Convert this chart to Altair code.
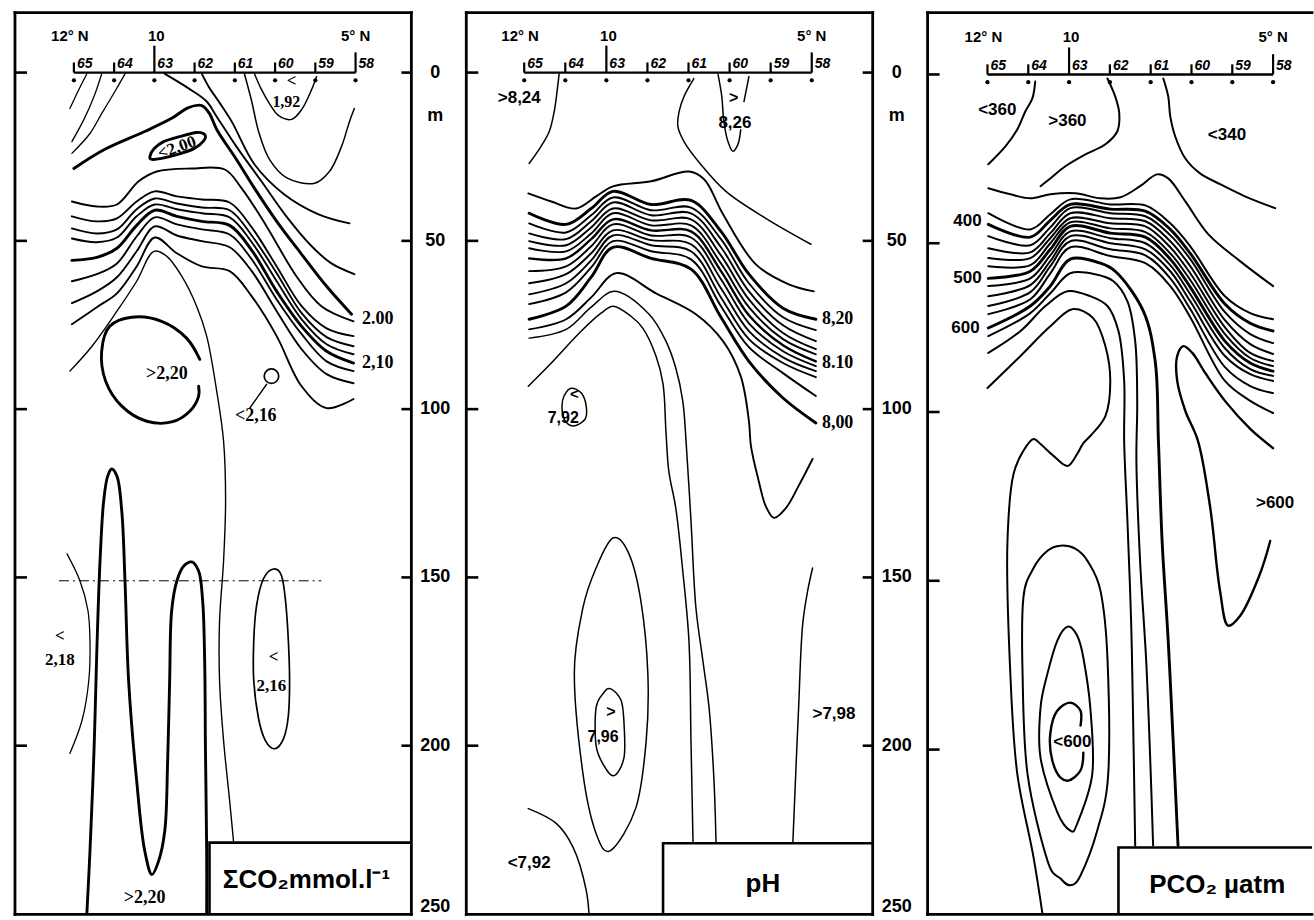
import altair as alt
import pandas as pd

# ===================== shared section furniture =====================
station_lat = [12, 11, 10, 9, 8, 7, 6, 5]
station_num = ["65", "64", "63", "62", "61", "60", "59", "58"]
station_tick_top = [-3, -3, -8, -3, -3, -3, -3, -6]
station_dot_dep = 2.3
station_num_dep = -1.4
lat_text = ["12° N", "10", "5° N"]
lat_text_lat = [12.1, 9.95, 5.0]
lat_text_dep = -11.0
depth_text = ["0", "m", "50", "100", "150", "200", "250"]
depth_text_dep = [0, 13.0, 50, 100, 150, 200, 248.0]
frame_tick_dep = [0, 50, 100, 150, 200]

# panel extents: lat left, lat right, depth top, depth bottom
co2_extent = [13.464, 3.613, -17.8, 250.1]
ph_extent = [13.41, 3.517, -17.8, 250.1]
pco2_extent = [13.468, 4.046, -18.3, 248.8]
# legend boxes: lat of left edge, depth of top edge
co2_box = [8.63, 228.8]
ph_box = [8.62, 229.0]
pco2_box = [8.79, 229.0]

# ===================== panel 1 : Sigma CO2 =====================
co2_l1_lat = [11.68, 11.90, 12.10]
co2_l1_dep = [0.4, 5.6, 10.7]
co2_l2_lat = [11.31, 11.50, 11.75, 12.05]
co2_l2_dep = [0.4, 7.1, 13.9, 20.5]
co2_l3_lat = [10.73, 11.01, 11.31, 11.60, 12.05]
co2_l3_dep = [0.4, 6.2, 12.2, 18.1, 24.0]
co2_200_lat = [12.00, 11.23, 10.24, 9.57, 9.15, 8.82, 8.63, 8.45, 7.96, 7.51, 6.96, 6.34, 5.72, 5.10]
co2_200_dep = [28.5, 22.8, 17.5, 13.6, 10.4, 9.8, 12.2, 16.9, 25.8, 34.4, 44.2, 54.0, 63.5, 71.8]
co2_ua_lat = [8.82, 8.65, 8.40, 8.08, 7.51, 6.77, 5.92, 5.15]
co2_ua_dep = [0.4, 4.2, 8.6, 14.5, 27.3, 36.2, 42.1, 44.8]
co2_ub_lat = [9.74, 9.15, 8.70, 8.45, 7.96, 7.34, 6.72, 6.09, 5.60, 5.03]
co2_ub_dep = [0.4, 4.7, 8.6, 13.1, 22.0, 32.3, 42.7, 51.6, 56.7, 59.9]
co2_u_lat = [7.76, 7.58, 7.41, 7.14, 6.72, 6.02, 5.65, 5.35, 5.15, 5.03]
co2_u_dep = [0.4, 8.6, 17.5, 25.8, 31.2, 32.9, 29.4, 22.0, 14.5, 10.7]
co2_v_lat = [7.51, 7.34, 7.14, 6.91, 6.59, 6.34, 6.09, 5.97]
co2_v_dep = [0.4, 5.0, 9.2, 12.8, 13.9, 11.0, 5.0, 1.2]
co2_ell_lat = [10.11, 10.01, 9.77, 9.37, 8.95, 8.75, 8.77, 9.02, 9.42, 9.82, 10.06]
co2_ell_dep = [24.9, 22.6, 20.5, 19.0, 17.8, 18.4, 20.2, 22.6, 24.3, 25.5, 25.8]
co2_b1_lat = [12.05, 11.43, 10.93, 10.39, 9.94, 9.07, 8.25, 7.83, 7.21, 6.47, 5.85, 5.05]
co2_b1_dep = [38.3, 39.8, 39.2, 32.3, 29.4, 28.5, 28.8, 34.4, 45.7, 60.5, 69.4, 73.9]
co2_band_lat = [12.05, 11.43, 10.93, 10.44, 9.99, 9.44, 8.82, 8.13, 7.58, 6.96, 6.34, 5.72, 5.05]
co2_b215 = [42.7, 44.2, 43.3, 38.3, 35.3, 36.8, 37.7, 38.6, 46.0, 57.6, 69.4, 76.0, 78.3]
co2_b227 = [46.3, 47.8, 46.6, 40.6, 37.4, 38.9, 40.1, 40.9, 48.4, 59.6, 71.5, 78.6, 81.3]
co2_b237 = [49.3, 50.4, 49.0, 42.7, 39.2, 40.6, 41.8, 43.0, 50.4, 62.0, 73.3, 80.7, 83.7]
co2_b259 = [55.8, 54.9, 52.2, 45.4, 40.9, 42.7, 44.2, 45.4, 52.8, 65.0, 75.4, 82.8, 86.3]
co2_b280 = [62.0, 59.9, 56.7, 48.7, 43.0, 45.1, 46.6, 48.1, 55.5, 67.4, 77.7, 85.8, 88.7]
co2_b302 = [68.5, 65.0, 60.8, 53.1, 45.7, 48.4, 50.1, 51.9, 59.0, 70.9, 82.2, 89.6, 92.3]
co2_b323 = [74.8, 69.7, 65.6, 57.6, 49.0, 53.7, 57.6, 59.0, 66.5, 78.3, 93.2, 99.7, 97.0]
co2_deep_lat = [12.10, 11.55, 10.93, 10.44, 10.01, 9.69, 9.32, 8.95, 8.70, 8.45, 8.28, 8.23, 8.28, 8.38, 8.38, 8.28, 8.13, 8.03]
co2_deep_dep = [88.7, 81.3, 70.9, 62.0, 53.1, 54.6, 60.5, 69.4, 78.3, 94.7, 109.5, 127.3, 145.1, 162.9, 180.7, 198.5, 216.3, 228.8]
co2_c220_lat = [8.87, 9.20, 9.82, 10.56, 11.11, 11.31, 11.21, 10.81, 10.19, 9.57, 9.12, 8.90, 8.90]
co2_c220_dep = [85.2, 78.9, 73.9, 72.7, 75.4, 82.8, 91.7, 99.1, 103.6, 103.8, 100.6, 96.1, 93.2]
co2_ptr_lat = [7.21, 7.63]
co2_ptr_dep = [92.6, 99.7]
co2_circle_lat = [7.09]
co2_circle_dep = [90.2]
co2_arc_lat = [12.17, 11.85, 11.65, 11.60, 11.63, 11.80, 12.10]
co2_arc_dep = [143.0, 151.0, 159.9, 168.8, 180.7, 192.6, 202.3]
co2_w_lat = [11.68, 11.60, 11.50, 11.43, 11.35, 11.26, 11.16, 11.06, 10.93, 10.81, 10.73, 10.64, 10.44, 10.24,
             10.06, 9.89, 9.74, 9.67, 9.62, 9.57, 9.44, 9.27, 9.07, 8.90, 8.80, 8.75, 8.73, 8.70, 8.70]
co2_w_dep = [250.5, 231.2, 201.5, 171.8, 145.1, 127.3, 119.9, 117.8, 119.9, 130.3, 151.0, 180.7, 210.4, 231.2,
             238.3, 234.1, 225.2, 204.4, 180.7, 159.9, 151.0, 146.6, 145.4, 148.1, 157.0, 174.8, 201.5, 231.2, 250.5]
co2_o216_lat = [7.04, 6.84, 6.74, 6.67, 6.64, 6.67, 6.79, 7.01, 7.24, 7.41, 7.53, 7.53, 7.46, 7.29]
co2_o216_dep = [147.5, 149.5, 157.0, 168.8, 180.7, 191.1, 197.9, 200.9, 198.5, 192.0, 180.7, 168.8, 158.4, 150.4]
co2_dash_lat = [12.37, 5.85]
co2_dash_dep = [151.0, 151.0]
co2_lab_text = ["<", "1,92", "<2,00", "2.00", "2,10", ">2,20", "<2,16", "<", "2,18", "<", "2,16", ">2,20"]
co2_lab_lat = [6.59, 6.72, 9.44, 4.45, 4.45, 9.69, 7.48, 12.35, 12.35, 7.04, 7.09, 10.24]
co2_lab_dep = [2.4, 8.6, 22.3, 73.3, 86.3, 89.6, 102.1, 167.3, 174.6, 173.6, 182.4, 245.4]
co2_title = "ΣCO₂mmol.l⁻¹"
co2_title_pos = [6.22, 240.0]

# ===================== panel 2 : pH =====================
ph_824_lat = [11.15, 11.20, 11.27, 11.39, 11.59, 11.88]
ph_824_dep = [0.4, 5.6, 11.6, 17.5, 21.9, 27.0]
ph_61_lat = [7.87, 8.11, 8.23, 8.26, 8.11, 7.70, 7.09, 6.12, 5.02]
ph_61_dep = [1.8, 7.1, 11.6, 16.0, 20.5, 27.3, 35.3, 43.3, 51.0]
ph_826a_lat = [7.28, 7.19, 7.14, 7.04, 6.92, 6.80, 6.73]
ph_826a_dep = [0.6, 7.1, 14.5, 20.5, 23.4, 21.4, 17.0]
ph_826b_lat = [6.65, 6.53]
ph_826b_dep = [8.6, 1.2]
ph_822_lat = [11.90, 11.34, 10.74, 10.25, 9.84, 8.91, 7.99, 7.62, 7.16, 6.36, 5.56, 4.95]
ph_822_dep = [35.9, 38.3, 40.4, 36.8, 33.8, 32.3, 29.4, 31.7, 42.1, 57.0, 62.9, 65.0]
ph_band_lat = [11.88, 10.98, 10.37, 9.84, 8.91, 7.94, 7.21, 6.53, 5.70, 4.90]
ph_b820 = [41.8, 45.1, 40.4, 35.3, 39.2, 38.0, 47.2, 59.9, 70.0, 73.3]
ph_b818 = [44.8, 47.5, 42.4, 37.1, 40.9, 40.1, 49.5, 62.6, 72.7, 76.5]
ph_b816 = [47.8, 49.5, 44.2, 38.6, 42.4, 41.8, 51.9, 65.0, 75.1, 79.8]
ph_b814 = [50.1, 51.3, 46.0, 40.4, 43.9, 43.6, 54.3, 67.4, 77.4, 82.2]
ph_b812 = [52.2, 53.1, 47.8, 41.8, 45.4, 45.4, 56.7, 69.7, 79.2, 83.7]
ph_b810 = [55.2, 55.2, 49.5, 43.6, 46.9, 47.2, 59.0, 72.1, 81.0, 85.8]
ph_b808 = [59.0, 57.6, 51.6, 45.1, 48.4, 49.0, 61.4, 74.5, 82.8, 87.2]
ph_b806 = [62.6, 59.9, 53.7, 46.9, 49.8, 51.0, 64.1, 76.8, 84.6, 88.7]
ph_b804 = [65.9, 62.6, 55.8, 48.4, 51.3, 53.1, 66.8, 79.2, 86.3, 90.5]
ph_b802 = [68.8, 65.3, 57.9, 50.1, 53.1, 55.5, 69.4, 81.6, 89.3, 96.1]
ph_b800 = [73.3, 69.4, 60.8, 51.9, 55.2, 58.4, 72.7, 85.8, 96.7, 104.1]
ph_798_lat = [11.88, 10.98, 10.37, 9.76, 8.79, 7.82, 7.16, 6.73, 6.53, 6.48, 6.29, 6.12, 5.92, 5.63, 5.32, 4.98]
ph_798_dep = [76.3, 73.3, 66.8, 59.6, 65.6, 71.8, 79.8, 90.2, 103.5, 111.0, 121.4, 128.8, 132.3, 129.4, 122.8, 114.8]
ph_796_lat = [11.88, 10.98, 10.37, 9.81, 8.96, 8.55, 8.31, 8.14, 8.06, 7.94, 7.82, 7.65, 7.50, 7.38, 7.33]
ph_796_dep = [78.9, 76.3, 69.7, 65.0, 71.8, 79.8, 87.8, 97.6, 109.5, 133.2, 159.0, 174.8, 188.7, 210.4, 229.0]
ph_794_lat = [11.90, 11.34, 10.61, 10.13, 9.84, 9.40, 9.11, 8.79, 8.62, 8.55, 8.48, 8.31, 8.14, 7.99, 7.94, 7.89]
ph_794_dep = [93.2, 86.3, 76.8, 71.5, 69.4, 72.4, 76.0, 84.3, 92.6, 106.5, 118.4, 129.4, 148.1, 168.8, 198.5, 229.0]
ph_right_lat = [4.98, 5.10, 5.22, 5.32, 5.39, 5.46]
ph_right_dep = [147.2, 154.0, 163.8, 188.7, 208.3, 228.8]
ph_outer_lat = [9.84, 9.45, 9.16, 8.99, 9.03, 9.28, 9.89, 10.25, 10.57, 10.78, 10.57, 10.25]
ph_outer_dep = [138.3, 143.0, 157.0, 178.6, 198.5, 218.4, 231.1, 226.1, 208.3, 178.6, 159.0, 147.2]
ph_inner_lat = [9.89, 9.64, 9.57, 9.57, 9.81, 10.06, 10.25, 10.25, 10.06]
ph_inner_dep = [183.1, 186.6, 193.5, 203.5, 208.9, 205.9, 200.0, 188.7, 184.2]
ph_792_lat = [11.90, 11.22, 10.81, 10.49, 10.42]
ph_792_dep = [218.7, 223.1, 230.2, 243.0, 250.5]
ph_blob_lat = [10.86, 10.61, 10.49, 10.52, 10.81, 11.03, 11.08, 11.03]
ph_blob_dep = [93.8, 95.2, 99.1, 103.0, 105.0, 103.0, 99.1, 96.1]
ph_lab_text = [">8,24", ">", "8,26", "8,20", "8.10", "8,00", "<", "7,92", ">", "7,96", ">7,98", "<7,92"]
ph_lab_lat = [12.12, 6.90, 6.87, 4.37, 4.37, 4.37, 10.78, 11.05, 9.89, 10.08, 4.46, 11.88]
ph_lab_dep = [7.7, 7.6, 15.0, 73.3, 86.3, 104.1, 95.4, 102.6, 190.0, 197.4, 190.5, 235.0]
ph_title = "pH"
ph_title_pos = [6.19, 241.0]

# ===================== panel 3 : PCO2 =====================
pco2_360a_lat = [10.83, 10.90, 11.07, 11.27, 11.56, 11.98]
pco2_360a_dep = [2.1, 7.1, 10.9, 16.3, 21.3, 26.6]
pco2_360b_lat = [9.06, 8.87, 8.77, 8.82, 9.11, 9.60, 10.09, 10.46, 10.70]
pco2_360b_dep = [1.2, 6.5, 11.5, 16.9, 20.7, 23.7, 27.2, 30.8, 33.1]
pco2_340_lat = [7.69, 7.57, 7.52, 7.40, 7.15, 6.79, 6.30, 5.69, 4.95]
pco2_340_dep = [1.2, 6.5, 12.4, 18.3, 24.9, 29.3, 32.5, 36.1, 39.6]
pco2_top_lat = [11.98, 11.44, 10.95, 10.46, 9.85, 9.23, 8.74, 8.26, 7.84, 7.57, 7.15, 6.59, 5.81, 5.00]
pco2_top_dep = [33.7, 35.5, 36.7, 35.5, 35.2, 36.7, 36.4, 33.1, 29.6, 30.8, 37.6, 47.3, 55.3, 62.7]
pco2_band_lat = [11.98, 10.95, 10.46, 9.97, 8.99, 8.13, 7.52, 7.03, 6.18, 5.56, 5.00]
pco2_b380 = [41.1, 45.9, 41.4, 37.0, 38.5, 38.8, 44.1, 50.9, 65.7, 70.7, 72.5]
pco2_b400 = [44.4, 48.2, 43.2, 38.5, 39.9, 40.5, 45.9, 53.0, 68.0, 73.7, 76.0]
pco2_b420 = [47.9, 50.6, 45.3, 39.6, 41.1, 42.0, 47.6, 54.7, 70.4, 76.9, 79.6]
pco2_b440 = [51.5, 52.7, 47.0, 41.1, 42.6, 43.5, 49.4, 56.8, 72.8, 79.9, 82.8]
pco2_b460 = [54.4, 54.4, 48.5, 42.6, 44.1, 45.0, 51.2, 58.9, 74.9, 82.5, 84.9]
pco2_b480 = [56.8, 56.5, 50.0, 43.8, 45.6, 46.7, 53.0, 60.9, 76.9, 84.0, 86.4]
pco2_b500 = [60.4, 58.3, 51.8, 45.0, 47.0, 48.2, 54.7, 63.0, 79.0, 85.5, 87.9]
pco2_b520 = [62.7, 60.4, 53.6, 46.5, 48.5, 50.0, 56.5, 65.1, 81.1, 87.3, 89.3]
pco2_b540 = [65.7, 62.4, 55.3, 47.9, 50.0, 51.8, 58.3, 67.2, 83.4, 88.8, 90.8]
pco2_b560 = [68.6, 64.5, 56.8, 49.4, 51.8, 53.6, 60.4, 69.5, 86.7, 92.3, 94.4]
pco2_b580 = [71.0, 66.6, 58.9, 51.2, 53.8, 55.9, 62.7, 71.9, 90.8, 96.7, 100.3]
pco2_600_lat = [11.98, 10.95, 10.46, 9.97, 9.23, 8.87, 8.18, 7.89, 7.81, 7.72, 7.57, 7.45, 7.33]
pco2_600_dep = [75.1, 68.6, 62.7, 54.7, 55.9, 58.3, 70.1, 84.9, 108.6, 138.2, 167.8, 197.3, 228.4]
pco2_620_lat = [11.98, 10.95, 10.46, 9.97, 9.36, 8.92, 8.57, 8.38, 8.33, 8.35, 8.26, 8.11, 8.01, 7.94]
pco2_620_dep = [77.5, 70.7, 64.8, 58.9, 59.2, 61.2, 67.2, 79.0, 96.7, 114.5, 144.1, 173.7, 203.3, 228.4]
pco2_640_lat = [11.98, 11.19, 10.58, 10.04, 9.48, 9.06, 8.79, 8.65, 8.65, 8.57, 8.48, 8.43, 8.38]
pco2_640_dep = [82.5, 76.0, 68.6, 64.2, 65.7, 68.6, 76.0, 90.8, 108.6, 132.3, 161.8, 191.4, 228.4]
pco2_660_lat = [12.00, 11.19, 10.46, 9.90, 9.41, 9.11, 8.99, 9.11, 9.48, 9.65, 9.80, 10.04, 10.38, 10.70, 10.87,
                11.12, 11.36, 11.51, 11.44, 11.27, 10.87, 10.63]
pco2_660_dep = [92.9, 83.4, 74.6, 69.5, 72.2, 80.5, 90.8, 101.2, 107.1, 109.2, 112.4, 116.0, 113.0, 109.5, 108.0,
                111.5, 118.3, 138.2, 177.5, 207.1, 232.0, 250.5]
pco2_tongue_lat = [5.00, 5.56, 6.18, 6.66, 6.98, 7.20, 7.35, 7.35, 7.15, 6.84, 6.54, 6.30, 6.10, 5.81, 5.32, 5.07]
pco2_tongue_dep = [110.7, 105.0, 96.7, 88.5, 82.5, 80.5, 83.4, 90.8, 99.7, 108.6, 128.4, 153.0, 163.3, 160.4, 147.9, 138.2]
pco2_c600_lat = [9.65, 9.72, 10.02, 10.21, 10.41, 10.46, 10.29, 9.97, 9.72, 9.72]
pco2_c600_dep = [200.9, 206.2, 209.2, 208.3, 203.3, 195.2, 188.5, 186.1, 188.5, 192.9]
pco2_o2_lat = [10.04, 9.80, 9.65, 9.48, 9.43, 9.80, 9.97, 10.29, 10.70, 10.70, 10.53, 10.29]
pco2_o2_dep = [163.6, 166.3, 172.8, 187.6, 207.1, 221.9, 224.0, 218.5, 202.4, 187.6, 177.5, 167.8]
pco2_o3_lat = [10.21, 9.85, 9.55, 9.23, 9.06, 9.04, 9.31, 9.72, 9.97, 10.21, 10.53, 11.02, 11.14, 11.12, 10.87, 10.53]
pco2_o3_dep = [139.6, 140.5, 144.1, 153.0, 172.8, 207.1, 224.0, 237.3, 240.2, 238.2, 232.9, 207.1, 177.5, 155.0, 146.2, 141.1]
pco2_lab_text = ["<360", ">360", "<340", "400", "500", "600", ">600", "<600"]
pco2_lab_lat = [11.76, 10.04, 6.13, 12.49, 12.49, 12.54, 4.95, 9.92]
pco2_lab_dep = [10.4, 13.9, 17.8, 43.5, 60.4, 75.1, 126.9, 197.9]
pco2_title = "PCO₂ µatm"
pco2_title_pos = [6.37, 240.2]

# ===================== styling =====================
SANS = "Liberation Sans, Arial, Helvetica, sans-serif"
SERIF = "Liberation Serif, Times New Roman, serif"
THIN, NORM, THICK = 1.3, 1.9, 2.9
W1, W2, W3, H = 397, 407, 385, 903


def line_frame(specs):
    rows = []
    for name, lats, deps, w in specs:
        assert len(lats) == len(deps), name
        for i, (a, b) in enumerate(zip(lats, deps)):
            rows.append({"id": name, "i": i, "lat": a, "dep": b, "w": w})
    return pd.DataFrame(rows)


def build_panel(extent, width, box, title, title_pos, open_specs, closed_specs,
                lab_text, lab_lat, lab_dep, lab_font, lab_size, lab_angle, right_side, extras=None):
    xs = alt.Scale(domain=[extent[0], extent[1]], nice=False, zero=False)
    ys = alt.Scale(domain=[extent[2], extent[3]], nice=False, zero=False, reverse=True)

    def X(f):
        return alt.X(f + ":Q", scale=xs, axis=None)

    def Y(f):
        return alt.Y(f + ":Q", scale=ys, axis=None)

    layers = []
    layers.append(
        alt.Chart(line_frame(open_specs)).mark_line(
            interpolate="catmull-rom", color="black", clip=True, strokeCap="round", strokeJoin="round"
        ).encode(x=X("lat"), y=Y("dep"), detail="id:N", order="i:Q",
                 strokeWidth=alt.StrokeWidth("w:Q", scale=None))
    )
    if closed_specs:
        layers.append(
            alt.Chart(line_frame(closed_specs)).mark_line(
                interpolate="cardinal-closed", color="black", clip=True, strokeJoin="round"
            ).encode(x=X("lat"), y=Y("dep"), detail="id:N", order="i:Q",
                     strokeWidth=alt.StrokeWidth("w:Q", scale=None))
        )
    if extras:
        layers.extend(extras(X, Y))

    # legend box
    df_box = pd.DataFrame([{"x1": box[0], "x2": extent[1] - 0.3, "y1": box[1], "y2": extent[3] + 3}])
    layers.append(
        alt.Chart(df_box).mark_rect(fill="white", stroke="black", strokeWidth=2.6, clip=True).encode(
            x=X("x1"), x2=alt.X2("x2"), y=Y("y1"), y2=alt.Y2("y2"))
    )
    layers.append(
        alt.Chart(pd.DataFrame([{"t": title, "lat": title_pos[0], "dep": title_pos[1]}])).mark_text(
            font=SANS, fontSize=26, fontWeight="bold", align="center", baseline="middle", color="black"
        ).encode(x=X("lat"), y=Y("dep"), text="t:N")
    )

    # frame
    e = extent
    frows = [
        {"x1": e[0], "x2": e[1], "y1": e[2], "y2": e[2]},
        {"x1": e[0], "x2": e[0], "y1": e[2], "y2": e[3]},
        {"x1": e[0], "x2": e[1], "y1": e[3], "y2": e[3]},
    ]
    if right_side:
        frows.append({"x1": e[1], "x2": e[1], "y1": e[2], "y2": e[3]})
    layers.append(
        alt.Chart(pd.DataFrame(frows)).mark_rule(color="black", strokeWidth=2.8, strokeCap="square").encode(
            x=X("x1"), x2=alt.X2("x2"), y=Y("y1"), y2=alt.Y2("y2"))
    )

    # station axis
    layers.append(
        alt.Chart(pd.DataFrame([{"x1": station_lat[0], "x2": station_lat[-1], "y1": 0.0, "y2": 0.0}])).mark_rule(
            color="black", strokeWidth=2.4).encode(x=X("x1"), x2=alt.X2("x2"), y=Y("y1"), y2=alt.Y2("y2"))
    )
    df_st = pd.DataFrame({"lat": station_lat, "num": station_num, "top": station_tick_top,
                          "base": [0.0] * len(station_lat),
                          "dot": [station_dot_dep] * len(station_lat),
                          "ndep": [station_num_dep] * len(station_lat)})
    layers.append(
        alt.Chart(df_st).mark_rule(color="black", strokeWidth=2.2).encode(
            x=X("lat"), y=Y("base"), y2=alt.Y2("top"))
    )
    layers.append(
        alt.Chart(df_st).mark_point(filled=True, size=18, color="black", opacity=1).encode(
            x=X("lat"), y=Y("dot"))
    )
    layers.append(
        alt.Chart(df_st).mark_text(align="left", baseline="alphabetic", dx=3, font=SANS, fontSize=14,
                                   fontWeight="bold", fontStyle="italic", color="black").encode(
            x=X("lat"), y=Y("ndep"), text="num:N")
    )
    df_lt = pd.DataFrame({"t": lat_text, "lat": lat_text_lat, "dep": [lat_text_dep] * len(lat_text)})
    layers.append(
        alt.Chart(df_lt).mark_text(align="center", baseline="middle", font=SANS, fontSize=15,
                                   fontWeight="bold", color="black").encode(
            x=X("lat"), y=Y("dep"), text="t:N")
    )

    # contour value labels
    df_lab = pd.DataFrame({"t": lab_text, "lat": lab_lat, "dep": lab_dep, "f": lab_font,
                           "s": lab_size, "ang": lab_angle})
    for fam in ("serif", "sans"):
        sub = df_lab[df_lab["f"] == fam]
        if len(sub):
            layers.append(
                alt.Chart(sub).mark_text(align="center", baseline="middle",
                                         font=SERIF if fam == "serif" else SANS,
                                         fontWeight="bold", color="black").encode(
                    x=X("lat"), y=Y("dep"), text="t:N",
                    size=alt.Size("s:Q", scale=None),
                    angle=alt.Angle("ang:Q", scale=None))
            )

    # inward depth ticks
    df_ft = pd.DataFrame({"dep": frame_tick_dep})
    layers.append(
        alt.Chart(df_ft).mark_rule(color="black", strokeWidth=2.6).encode(
            x=alt.value(0), x2=alt.value(12), y=Y("dep"))
    )
    if right_side:
        layers.append(
            alt.Chart(df_ft).mark_rule(color="black", strokeWidth=2.6).encode(
                x=alt.value(width - 10), x2=alt.value(width), y=Y("dep"))
        )
        df_dl = pd.DataFrame({"t": depth_text, "dep": depth_text_dep})
        layers.append(
            alt.Chart(df_dl).mark_text(align="center", baseline="middle", font=SANS, fontSize=18,
                                       fontWeight="bold", color="black").encode(
                x=alt.value(width + 24), y=Y("dep"), text="t:N")
        )
    return alt.layer(*layers).properties(width=width, height=H)


# ---------------- panel 1 ----------------
co2_open = [
    ("l1", co2_l1_lat, co2_l1_dep, THIN),
    ("l2", co2_l2_lat, co2_l2_dep, THIN),
    ("l3", co2_l3_lat, co2_l3_dep, THIN),
    ("c200", co2_200_lat, co2_200_dep, THICK),
    ("ua", co2_ua_lat, co2_ua_dep, NORM),
    ("ub", co2_ub_lat, co2_ub_dep, NORM),
    ("u", co2_u_lat, co2_u_dep, 1.5),
    ("v", co2_v_lat, co2_v_dep, 1.5),
    ("b1", co2_b1_lat, co2_b1_dep, NORM),
    ("b215", co2_band_lat, co2_b215, NORM),
    ("b227", co2_band_lat, co2_b227, NORM),
    ("b237", co2_band_lat, co2_b237, NORM),
    ("b259", co2_band_lat, co2_b259, THICK),
    ("b280", co2_band_lat, co2_b280, NORM),
    ("b302", co2_band_lat, co2_b302, NORM),
    ("b323", co2_band_lat, co2_b323, NORM),
    ("deep", co2_deep_lat, co2_deep_dep, 1.4),
    ("c220", co2_c220_lat, co2_c220_dep, THICK),
    ("ptr", co2_ptr_lat, co2_ptr_dep, 1.4),
    ("arc", co2_arc_lat, co2_arc_dep, THIN),
    ("w", co2_w_lat, co2_w_dep, THICK),
]
co2_closed = [
    ("ell", co2_ell_lat, co2_ell_dep, THICK),
    ("o216", co2_o216_lat, co2_o216_dep, 1.7),
]
co2_font = ["serif"] * len(co2_lab_text)
co2_size = [17, 16, 17, 18, 18, 18, 18, 17, 17, 17, 17, 18]
co2_angle = [0, 0, 340, 0, 0, 0, 0, 0, 0, 0, 0, 0]


def co2_extras(X, Y):
    df_d = pd.DataFrame({"lat": co2_dash_lat, "dep": co2_dash_dep})
    df_c = pd.DataFrame({"lat": co2_circle_lat, "dep": co2_circle_dep})
    return [
        alt.Chart(df_d).mark_line(color="black", strokeWidth=1, strokeDash=[10, 4, 2, 4], clip=True).encode(
            x=X("lat"), y=Y("dep")),
        alt.Chart(df_c).mark_point(shape="circle", filled=False, size=210, strokeWidth=1.7, color="black",
                                   opacity=1).encode(x=X("lat"), y=Y("dep")),
    ]


p1 = build_panel(co2_extent, W1, co2_box, co2_title, co2_title_pos, co2_open, co2_closed,
                 co2_lab_text, co2_lab_lat, co2_lab_dep, co2_font, co2_size, co2_angle, True, co2_extras)

# ---------------- panel 2 ----------------
ph_open = [
    ("p824", ph_824_lat, ph_824_dep, 1.5),
    ("p61", ph_61_lat, ph_61_dep, 1.5),
    ("p826a", ph_826a_lat, ph_826a_dep, 1.5),
    ("p826b", ph_826b_lat, ph_826b_dep, 1.5),
    ("p822", ph_822_lat, ph_822_dep, NORM),
    ("b820", ph_band_lat, ph_b820, THICK),
    ("b818", ph_band_lat, ph_b818, NORM),
    ("b816", ph_band_lat, ph_b816, NORM),
    ("b814", ph_band_lat, ph_b814, NORM),
    ("b812", ph_band_lat, ph_b812, NORM),
    ("b810", ph_band_lat, ph_b810, 2.4),
    ("b808", ph_band_lat, ph_b808, NORM),
    ("b806", ph_band_lat, ph_b806, NORM),
    ("b804", ph_band_lat, ph_b804, NORM),
    ("b802", ph_band_lat, ph_b802, NORM),
    ("b800", ph_band_lat, ph_b800, THICK),
    ("p798", ph_798_lat, ph_798_dep, NORM),
    ("p796", ph_796_lat, ph_796_dep, 1.5),
    ("p794", ph_794_lat, ph_794_dep, 1.5),
    ("pright", ph_right_lat, ph_right_dep, 1.5),
    ("p792", ph_792_lat, ph_792_dep, 1.5),
]
ph_closed = [
    ("outer", ph_outer_lat, ph_outer_dep, 1.5),
    ("inner", ph_inner_lat, ph_inner_dep, 1.5),
    ("blob", ph_blob_lat, ph_blob_dep, 1.5),
]
ph_font = ["sans", "sans", "sans", "serif", "serif", "serif", "sans", "sans", "sans", "sans", "sans", "sans"]
ph_size = [17, 16, 17, 18, 18, 18, 15, 16, 16, 16, 17, 17]
ph_angle = [0] * len(ph_lab_text)
p2 = build_panel(ph_extent, W2, ph_box, ph_title, ph_title_pos, ph_open, ph_closed,
                 ph_lab_text, ph_lab_lat, ph_lab_dep, ph_font, ph_size, ph_angle, True)

# ---------------- panel 3 ----------------
P3N = 2.0
pco2_open = [
    ("a360", pco2_360a_lat, pco2_360a_dep, P3N),
    ("b360", pco2_360b_lat, pco2_360b_dep, P3N),
    ("c340", pco2_340_lat, pco2_340_dep, P3N),
    ("top", pco2_top_lat, pco2_top_dep, P3N),
    ("b380", pco2_band_lat, pco2_b380, P3N),
    ("b400", pco2_band_lat, pco2_b400, THICK),
    ("b420", pco2_band_lat, pco2_b420, P3N),
    ("b440", pco2_band_lat, pco2_b440, P3N),
    ("b460", pco2_band_lat, pco2_b460, P3N),
    ("b480", pco2_band_lat, pco2_b480, P3N),
    ("b500", pco2_band_lat, pco2_b500, THICK),
    ("b520", pco2_band_lat, pco2_b520, P3N),
    ("b540", pco2_band_lat, pco2_b540, P3N),
    ("b560", pco2_band_lat, pco2_b560, P3N),
    ("b580", pco2_band_lat, pco2_b580, P3N),
    ("d600", pco2_600_lat, pco2_600_dep, THICK),
    ("d620", pco2_620_lat, pco2_620_dep, P3N),
    ("d640", pco2_640_lat, pco2_640_dep, P3N),
    ("d660", pco2_660_lat, pco2_660_dep, P3N),
    ("tongue", pco2_tongue_lat, pco2_tongue_dep, 2.4),
    ("c600", pco2_c600_lat, pco2_c600_dep, 2.4),
]
pco2_closed = [
    ("o2", pco2_o2_lat, pco2_o2_dep, P3N),
    ("o3", pco2_o3_lat, pco2_o3_dep, P3N),
]
pco2_font = ["sans"] * len(pco2_lab_text)
pco2_size = [17] * len(pco2_lab_text)
pco2_angle = [0] * len(pco2_lab_text)
p3 = build_panel(pco2_extent, W3, pco2_box, pco2_title, pco2_title_pos, pco2_open, pco2_closed,
                 pco2_lab_text, pco2_lab_lat, pco2_lab_dep, pco2_font, pco2_size, pco2_angle, False)

chart = alt.hconcat(p1, p2, p3, spacing=55, bounds="flush").properties(
    padding={"left": 13, "top": 10, "right": 0, "bottom": 0},
    background="white",
).configure_view(strokeWidth=0)

chart.save("out.html", embed_options={"renderer": "svg", "actions": False})
